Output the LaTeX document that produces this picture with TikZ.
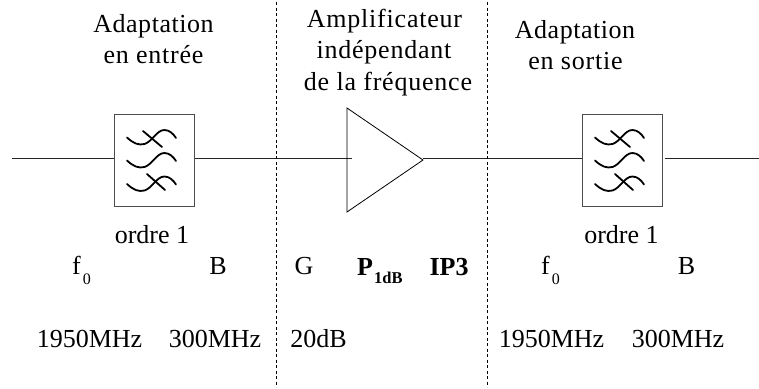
\documentclass[tikz,border=0pt]{standalone}
\usepackage{fontspec}
\setmainfont{Liberation Serif}
\tikzset{
 px/.style={x=1pt,y=-1pt},
 wire/.style={line width=0.8pt,black!85},
 sep/.style={line width=0.7pt,dash pattern=on 3pt off 2.5pt},
 filt/.style={draw=black!70,line width=1pt,minimum width=80pt,minimum height=92pt,inner sep=0pt},
 amp/.style={line width=0.8pt},
 sq/.style={line width=1.8pt,line cap=round},
 lab/.style={inner sep=0pt,font=\fontsize{26}{30}\selectfont,anchor=base},
 spaced/.style={lab,font=\fontsize{26}{30}\selectfont\addfontfeature{LetterSpace=3}},
 spacedsm/.style={lab,font=\fontsize{26}{30}\selectfont\addfontfeature{LetterSpace=2}},
}
\newcommand{\filtersym}[1]{%
 \begin{scope}[shift={(#1)}]
  \foreach \dy in {-23,0,23.5}{
   \draw[sq] (-24.5,\dy) .. controls (-18,\dy+6) and (-13,\dy+8) .. (-7,\dy+6.5) .. controls (1,\dy+4) and (5,\dy-7.5) .. (13,\dy-7.5) .. controls (18,\dy-7.5) and (22,\dy-3.5) .. (24.5,\dy+0.5);
  }
  \draw[sq] (-8.5,-29.5) -- (10.5,-13.5);
  \draw[sq] (-4.5,13.5) -- (13.5,29.5);
 \end{scope}}
\newcommand{\zerosub}{\raisebox{-10pt}{\fontsize{16}{16}\selectfont\kern2pt 0}}
\newcommand{\dbsub}{\raisebox{-8pt}{\fontsize{16.5}{16}\selectfont\bfseries\kern1pt 1dB}}
\begin{document}
\begin{tikzpicture}[px]
\useasboundingbox (0,0) rectangle (759,388);
\coordinate (inL) at (12,158);
\coordinate (outR) at (759,158);
\node[filt] (f1) at (154,160) {};
\node[filt] (f2) at (622,160) {};
\coordinate (ampW) at (352,158);
\coordinate (ampA) at (347,108);
\coordinate (ampB) at (347,212);
\coordinate (ampE) at (423,160);
\draw[wire] (inL) -- (f1.west |- inL);
\draw[wire] (f1.east |- inL) -- (ampW);
\draw[wire] (ampE |- inL) -- (f2.west |- inL);
\draw[wire] ([xshift=2pt]f2.east |- outR) -- (outR);
\draw[amp] (ampA) -- (ampE) -- (ampB) -- cycle;
\filtersym{151.5,160.5}
\filtersym{619.5,160.5}
\coordinate (s1a) at (276,2); \coordinate (s1b) at (276,387);
\coordinate (s2a) at (487,2); \coordinate (s2b) at (487,387);
\draw[sep] (s1a) -- (s1b);
\draw[sep] (s2a) -- (s2b);
\node[spacedsm] (t1) at (153.5,32) {Adaptation};
\node[spaced] (t2) at (153.5,63) {en entrée};
\node[spaced] (t3) at (384.5,27) {Amplificateur};
\node[spaced] (t4) at (384,58) {indépendant};
\node[spaced] (t5) at (388,90) {de la fréquence};
\node[spacedsm] (t6) at (575,38) {Adaptation};
\node[spaced] (t7) at (575.5,69) {en sortie};
\node[lab] (o1) at (152,243) {ordre 1};
\node[lab] (o2) at (621.5,243) {ordre 1};
\node[lab,anchor=base west] (f0a) at (72,274) {f\zerosub};
\node[lab] (ba) at (218,274) {B};
\node[lab] (g) at (304,274) {G};
\node[lab,anchor=base west] (p) at (357,275) {\textbf{P}\dbsub};
\node[lab] (ip) at (449,275) {\textbf{IP3}};
\node[lab,anchor=base west] (f0b) at (541,274) {f\zerosub};
\node[lab] (bb) at (686.5,274) {B};
\node[lab] (v1) at (89.5,347) {1950MHz};
\node[lab] (v2) at (215,347) {300MHz};
\node[lab] (v3) at (318.5,347) {20dB};
\node[lab] (v4) at (551.5,347) {1950MHz};
\node[lab] (v5) at (678,347) {300MHz};
\end{tikzpicture}
\end{document}
